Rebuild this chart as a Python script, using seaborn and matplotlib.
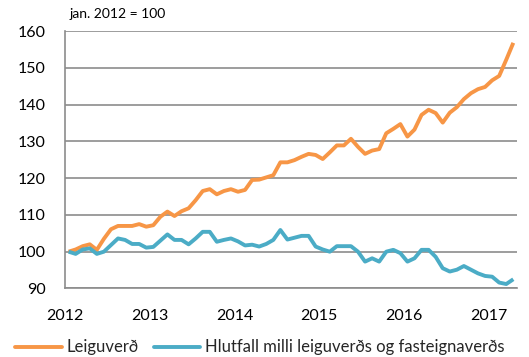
import numpy as np
import pandas as pd
import matplotlib
matplotlib.use("Agg")
import matplotlib.pyplot as plt
import seaborn as sns

# Monthly index values, jan. 2012 = 100 (Jan 2012 - Apr 2017)
leiguverd = [
    100.0, 100.6, 101.5, 102.0, 100.5, 103.5, 106.1, 107.0, 107.0, 107.0, 107.5, 106.8,
    107.2, 109.5, 110.9, 109.7, 111.0, 111.8, 114.0, 116.5, 117.0, 115.6, 116.5, 117.0,
    116.3, 116.8, 119.5, 119.6, 120.2, 120.8, 124.3, 124.3, 124.9, 125.8, 126.6, 126.3,
    125.2, 127.0, 128.9, 128.9, 130.7, 128.5, 126.6, 127.5, 127.9, 132.2, 133.4, 134.7,
    131.3, 133.2, 137.2, 138.6, 137.7, 135.1, 137.8, 139.3, 141.5, 143.1, 144.2, 144.8,
    146.6, 147.8, 152.2, 156.8,
]
hlutfall = [
    100.0, 99.4, 100.6, 100.9, 99.4, 100.0, 101.8, 103.6, 103.2, 102.1, 102.1, 101.1,
    101.3, 103.0, 104.7, 103.2, 103.2, 102.0, 103.6, 105.4, 105.4, 102.7, 103.2, 103.6,
    102.8, 101.7, 101.9, 101.4, 102.1, 103.2, 105.9, 103.3, 103.8, 104.3, 104.3, 101.4,
    100.6, 100.0, 101.5, 101.5, 101.5, 100.0, 97.3, 98.2, 97.3, 100.0, 100.5, 99.6,
    97.3, 98.2, 100.5, 100.5, 98.6, 95.5, 94.6, 95.1, 96.1, 95.1, 94.1, 93.4,
    93.2, 91.6, 91.2, 92.5,
]
series_names = ["Leiguverð", "Hlutfall milli leiguverðs og fasteignaverðs"]
year_labels = ["2012", "2013", "2014", "2015", "2016", "2017"]
y_ticks = [90, 100, 110, 120, 130, 140, 150, 160]

n = len(leiguverd)
months = np.arange(n) + 0.5  # each month centred in its slot
df = pd.DataFrame({
    "month": np.concatenate([months, months]),
    "value": leiguverd + hlutfall,
    "series": [series_names[0]] * n + [series_names[1]] * n,
})

sns.set_theme(style="white")
plt.rcParams["font.family"] = ["Lato", "DejaVu Sans"]

fig = plt.figure(figsize=(5.29, 3.57), dpi=100)
ax = fig.add_axes([0.123, 0.192, 0.854, 0.721])

palette = {series_names[0]: "#F79646", series_names[1]: "#4BACC6"}
sns.lineplot(data=df, x="month", y="value", hue="series", palette=palette,
             linewidth=2.8, ax=ax, legend=False, solid_capstyle="butt")

grid_c = "#8C8C8C"
ax.set_xlim(0, n)
ax.set_ylim(90, 160)
ax.set_yticks(y_ticks)
ax.set_xticks(np.arange(0, 61, 12))
ax.set_xticklabels(year_labels)
ax.yaxis.grid(True, color=grid_c, linewidth=1.2)
ax.xaxis.grid(False)
ax.set_axisbelow(True)
for side in ["top", "right"]:
    ax.spines[side].set_visible(False)
for side in ["left", "bottom"]:
    ax.spines[side].set_color(grid_c)
    ax.spines[side].set_linewidth(1.2)
ax.tick_params(axis="both", direction="out", length=5, width=1.2, color=grid_c,
               labelsize=11.5, labelcolor="#000000")
ax.tick_params(axis="y", pad=9)
ax.tick_params(axis="x", pad=10)
ax.set_xlabel("")
ax.set_ylabel("")

fig.text(0.132, 0.961, "jan. 2012 = 100", fontsize=10, color="#000000",
         ha="left", va="center")

handles = [plt.Line2D([], [], color=palette[s], linewidth=2.8) for s in series_names]
fig.legend(handles, series_names, loc="lower left", bbox_to_anchor=(0.025, 0.0),
           ncol=2, frameon=False, fontsize=12, handlelength=2.8, handletextpad=0.3,
           columnspacing=0.9, borderaxespad=0, borderpad=0.1)

fig.savefig("out.png", dpi=100)
